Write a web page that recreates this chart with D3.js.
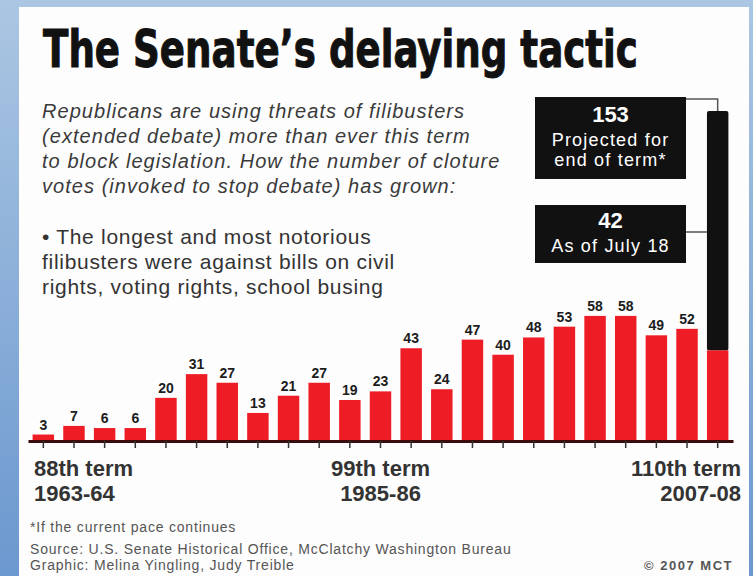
<!DOCTYPE html>
<html><head><meta charset="utf-8">
<script src="https://cdn.jsdelivr.net/npm/d3@7"></script>
<style>body{margin:0;background:#fff;} svg{display:block;}</style>
</head><body>
<svg id="chart" width="753" height="576"></svg>
<script>
// ---------- data ----------
const terms = ["88th","89th","90th","91st","92nd","93rd","94th","95th","96th","97th","98th","99th",
               "100th","101st","102nd","103rd","104th","105th","106th","107th","108th","109th","110th"];
const clotureVotes = [3,7,6,6,20,31,27,13,21,27,19,23,43,24,47,40,48,53,58,58,49,52,42];
const projectedTerm = "110th";
const projectedTotal = 153;
const labelTerms = ["88th","99th","110th"];
const labelYears = ["1963-64","1985-86","2007-08"];
const titleText = "The Senate\u2019s delaying tactic";
const introLines = ["Republicans are using threats of filibusters",
                    "(extended debate) more than ever this term",
                    "to block legislation. How the number of cloture",
                    "votes (invoked to stop debate) has grown:"];
const bulletLines = ["\u2022 The longest and most notorious",
                     "filibusters were against bills on civil",
                     "rights, voting rights, school busing"];
const projectedLines = ["153","Projected for","end of term*"];
const currentLines = ["42","As of July 18"];
const footLines = ["*If the current pace continues",
                   "Source: U.S. Senate Historical Office, McClatchy Washington Bureau",
                   "Graphic: Melina Yingling, Judy Treible"];
const creditText = "\u00A9 2007 MCT";

// ---------- drawing ----------
const svg = d3.select("#chart");
const W = 753, H = 576;
const defs = svg.append("defs");
const grad = defs.append("linearGradient").attr("id","bg").attr("x1",0).attr("y1",0).attr("x2",0).attr("y2",1);
grad.append("stop").attr("offset","0%").attr("stop-color","#abc6e2");
grad.append("stop").attr("offset","100%").attr("stop-color","#6b98cf");
svg.append("rect").attr("width",W).attr("height",H).attr("fill","url(#bg)");
svg.append("rect").attr("x",19).attr("y",7).attr("width",730).attr("height",H-7).attr("fill","#fdfdfd");

const sans = "'Liberation Sans', Arial, Helvetica, sans-serif";

// title: fit the natural width to the panel, then stretch vertically to the reference cap height
const titleG = svg.append("g");
const title = titleG.append("text").attr("x",0).attr("y",0)
  .attr("font-family","'DejaVu Sans Condensed','Liberation Sans Narrow','DejaVu Sans',sans-serif")
  .attr("font-weight","bold").attr("font-size",52).attr("fill","#111")
  .attr("stroke","#111").attr("stroke-width",0.8)
  .text(titleText);
const natLen = title.node().getComputedTextLength();
const fs = 52*595/natLen;
title.attr("font-size",fs);
titleG.attr("transform",`translate(43,67) scale(1,${(52/fs).toFixed(4)})`);

// intro (italic)
svg.append("g").selectAll("text").data(introLines).join("text")
  .attr("x",42).attr("y",(d,i)=>118+i*25)
  .attr("font-family",sans).attr("font-style","italic").attr("font-size",20)
  .attr("letter-spacing",1.05).attr("fill","#3a3a3a")
  .text(d=>d);

// bullet
svg.append("g").selectAll("text").data(bulletLines).join("text")
  .attr("x",42).attr("y",(d,i)=>244+i*25)
  .attr("font-family",sans).attr("font-size",21).attr("letter-spacing",0.7).attr("fill","#333")
  .text(d=>d);

// scales
const baseY = 441;
const x = d3.scaleBand().domain(terms).range([28,733]).paddingInner(0.3).paddingOuter(0.15);
const y = d3.scaleLinear().domain([0,projectedTotal]).range([baseY,111]);
const bw = x.bandwidth();

// projected (black) bar
svg.append("rect")
  .attr("x",x(projectedTerm)).attr("width",bw)
  .attr("y",y(projectedTotal)).attr("height",y(clotureVotes[terms.indexOf(projectedTerm)]) - y(projectedTotal))
  .attr("rx",2).attr("fill","#111");

// red bars
svg.append("g").selectAll("rect").data(terms).join("rect")
  .attr("x",d=>x(d)).attr("width",bw)
  .attr("y",(d,i)=>y(clotureVotes[i])).attr("height",(d,i)=>baseY - y(clotureVotes[i]))
  .attr("fill","#ee1c25");

// value labels (not for the current term, which is in the callout)
svg.append("g").selectAll("text").data(terms.filter(t=>t!==projectedTerm)).join("text")
  .attr("x",d=>x(d)+bw/2).attr("y",d=>y(clotureVotes[terms.indexOf(d)])-5)
  .attr("text-anchor","middle").attr("font-family",sans).attr("font-weight","bold")
  .attr("font-size",14).attr("fill","#1c1c1c")
  .text(d=>clotureVotes[terms.indexOf(d)]);

// axis
const ax = svg.append("g").attr("transform",`translate(0,${baseY})`)
  .call(d3.axisBottom(x).tickSize(7).tickSizeOuter(0).tickFormat(""));
ax.select(".domain").attr("stroke","#3a0c0c").attr("stroke-width",3);
ax.selectAll(".tick line").attr("stroke","#333").attr("stroke-width",1.5);

// axis term labels
labelTerms.forEach((t,i)=>{
  const anchor = i===0 ? "start" : (i===labelTerms.length-1 ? "end" : "middle");
  const cx = i===0 ? 34 : (i===labelTerms.length-1 ? 741 : x(t)+bw/2);
  const g = svg.append("g").attr("font-family",sans).attr("font-weight","bold")
    .attr("font-size",22).attr("fill","#333").attr("text-anchor",anchor);
  g.append("text").attr("x",cx).attr("y",476).text(t+" term");
  g.append("text").attr("x",cx).attr("y",501).text(labelYears[i]);
});

// callouts
const barCx = x(projectedTerm)+bw/2;
const boxX = 535, boxW = 151;
svg.append("path").attr("d",`M${boxX+boxW},99 H${barCx} V${y(projectedTotal)}`)
  .attr("fill","none").attr("stroke","#555").attr("stroke-width",1.5);
svg.append("path").attr("d",`M${boxX+boxW},232 H${x(projectedTerm)}`)
  .attr("fill","none").attr("stroke","#555").attr("stroke-width",1.5);

svg.append("rect").attr("x",boxX).attr("y",97).attr("width",boxW).attr("height",82).attr("fill","#111");
svg.append("rect").attr("x",boxX).attr("y",205).attr("width",boxW).attr("height",58).attr("fill","#111");

const cb1 = svg.append("g").attr("font-family",sans).attr("fill","#fff").attr("text-anchor","middle");
cb1.append("text").attr("x",boxX+boxW/2).attr("y",122).attr("font-weight","bold").attr("font-size",22).text(projectedLines[0]);
cb1.append("text").attr("x",boxX+boxW/2).attr("y",146).attr("font-size",18).attr("letter-spacing",1.2).text(projectedLines[1]);
cb1.append("text").attr("x",boxX+boxW/2).attr("y",166).attr("font-size",18).attr("letter-spacing",1.2).text(projectedLines[2]);
const cb2 = svg.append("g").attr("font-family",sans).attr("fill","#fff").attr("text-anchor","middle");
cb2.append("text").attr("x",boxX+boxW/2).attr("y",228).attr("font-weight","bold").attr("font-size",22).text(currentLines[0]);
cb2.append("text").attr("x",boxX+boxW/2).attr("y",252).attr("font-size",18).attr("letter-spacing",1.2).text(currentLines[1]);

// footer
svg.append("g").selectAll("text").data(footLines).join("text")
  .attr("x",30).attr("y",(d,i)=>[532,554,570][i])
  .attr("font-family",sans).attr("font-size",14).attr("letter-spacing",0.8).attr("fill","#555")
  .text(d=>d);
svg.append("text").attr("x",733).attr("y",570).attr("text-anchor","end")
  .attr("font-family",sans).attr("font-weight","bold").attr("font-size",13).attr("letter-spacing",1.5).attr("fill","#555")
  .text(creditText);
</script>
</body></html>
